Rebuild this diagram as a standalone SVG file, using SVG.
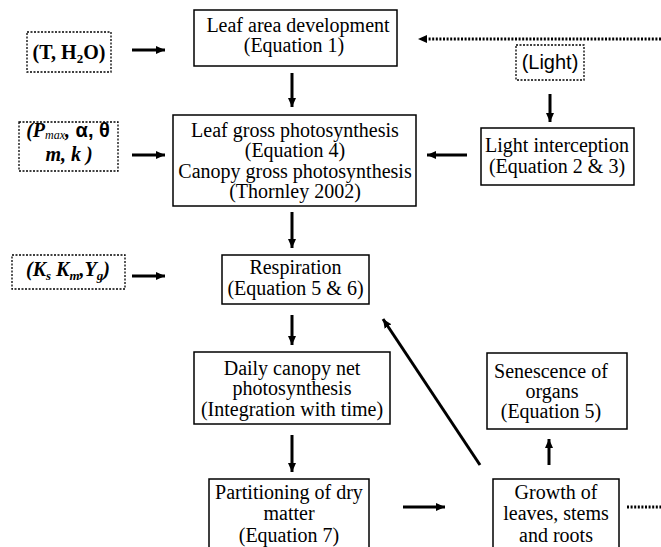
<svg xmlns="http://www.w3.org/2000/svg" width="661" height="547" viewBox="0 0 661 547">
<style>
.box{fill:#fff;stroke:#000;stroke-width:1.5}
.dbox{fill:#fff;stroke:#000;stroke-width:1.3;stroke-dasharray:2 1.5}
.t{font-family:"Liberation Serif","Times New Roman",serif;font-size:20px;fill:#000;text-anchor:middle}
.bi{font-weight:bold;font-style:italic}
.s{font-family:"Liberation Sans",Arial,sans-serif}
.a{stroke:#000;stroke-width:3;fill:none;marker-end:url(#ah)}
.d{stroke:#000;stroke-width:3;fill:none;stroke-dasharray:2 1.6}
</style>
<defs>
<marker id="ah" markerWidth="9" markerHeight="8" refX="9" refY="4" orient="auto" markerUnits="userSpaceOnUse"><path d="M0,0 L9,4 L0,8 z" fill="#000"/></marker>
</defs>
<rect width="661" height="547" fill="#fff"/>
<g id="connectors">
<line class="a" x1="132" y1="50" x2="165" y2="50"/>
<line class="a" x1="292" y1="73" x2="292" y2="107"/>
<line class="d" x1="661" y1="39" x2="426" y2="39"/>
<path d="M418,39 L427,35 L427,43 z" fill="#000"/>
<line class="a" x1="550" y1="94" x2="550" y2="122"/>
<line class="a" x1="132" y1="155" x2="165" y2="155"/>
<line class="a" x1="467" y1="155" x2="427" y2="155"/>
<line class="a" x1="292" y1="212" x2="292" y2="248"/>
<line class="a" x1="132" y1="276" x2="165" y2="276"/>
<line class="a" x1="292" y1="315" x2="292" y2="345"/>
<line class="a" x1="292" y1="435" x2="292" y2="472"/>
<line class="a" x1="480" y1="465" x2="383" y2="319"/>
<line class="a" x1="549" y1="465" x2="549" y2="439"/>
<line class="a" x1="403" y1="507" x2="445" y2="507"/>
<line class="d" x1="627" y1="507" x2="661" y2="507"/>
</g>
<g id="n-th2o">
<rect class="dbox" x="27" y="32" width="84" height="40"/>
<text class="t" font-weight="bold" x="69" y="59">(T, H<tspan font-size="13" dy="4">2</tspan><tspan dy="-4">O)</tspan></text>
</g>
<g id="n-leafarea">
<rect class="box" x="194" y="10" width="203" height="56"/>
<text class="t" x="298" y="32">Leaf area development</text>
<text class="t" x="294" y="52">(Equation 1)</text>
</g>
<g id="n-light">
<rect class="dbox" x="516" y="45" width="68" height="35"/>
<text class="t s" x="550" y="69">(Light)</text>
</g>
<g id="n-params">
<rect class="dbox" x="19" y="122" width="99" height="49"/>
<text class="t" x="68" y="137"><tspan class="bi">(P</tspan><tspan font-style="italic" font-size="12" dy="2">max</tspan><tspan class="bi" dy="-2">,</tspan><tspan class="s" font-weight="bold"> α, θ</tspan></text>
<text class="t bi" x="69" y="161">m, k )</text>
</g>
<g id="n-gross">
<rect class="box" x="173" y="115" width="243" height="91"/>
<text class="t" x="295" y="137">Leaf gross photosynthesis</text>
<text class="t" x="295" y="157">(Equation 4)</text>
<text class="t" x="295" y="178">Canopy gross photosynthesis</text>
<text class="t" x="295" y="198">(Thornley 2002)</text>
</g>
<g id="n-lightint">
<rect class="box" x="481" y="128" width="153" height="57"/>
<text class="t" x="557" y="152">Light interception</text>
<text class="t" x="557" y="173">(Equation 2 &amp; 3)</text>
</g>
<g id="n-ks">
<rect class="dbox" x="12" y="255" width="113" height="34"/>
<text class="t bi" x="68" y="276">(K<tspan font-size="13" dy="4">s</tspan><tspan dy="-4"> K</tspan><tspan font-size="13" dy="4">m</tspan><tspan dy="-4">,Y</tspan><tspan font-size="13" dy="4">g</tspan><tspan dy="-4">)</tspan></text>
</g>
<g id="n-resp">
<rect class="box" x="222" y="255" width="147" height="49"/>
<text class="t" x="295.5" y="274">Respiration</text>
<text class="t" x="295.5" y="295">(Equation 5 &amp; 6)</text>
</g>
<g id="n-daily">
<rect class="box" x="194" y="352" width="196" height="72"/>
<text class="t" x="292" y="375">Daily canopy net</text>
<text class="t" x="292" y="395">photosynthesis</text>
<text class="t" x="292" y="416">(Integration with time)</text>
</g>
<g id="n-sen">
<rect class="box" x="487" y="353" width="140" height="76"/>
<text class="t" x="551" y="378">Senescence of</text>
<text class="t" x="552" y="398">organs</text>
<text class="t" x="551" y="418">(Equation 5)</text>
</g>
<g id="n-part">
<rect class="box" x="209" y="479" width="160" height="80"/>
<text class="t" x="289" y="499">Partitioning of dry</text>
<text class="t" x="289" y="520">matter</text>
<text class="t" x="289" y="542">(Equation 7)</text>
</g>
<g id="n-growth">
<rect class="box" x="493" y="479" width="126" height="80"/>
<text class="t" x="556" y="499">Growth of</text>
<text class="t" x="556" y="520">leaves, stems</text>
<text class="t" x="556" y="542">and roots</text>
</g>
</svg>
